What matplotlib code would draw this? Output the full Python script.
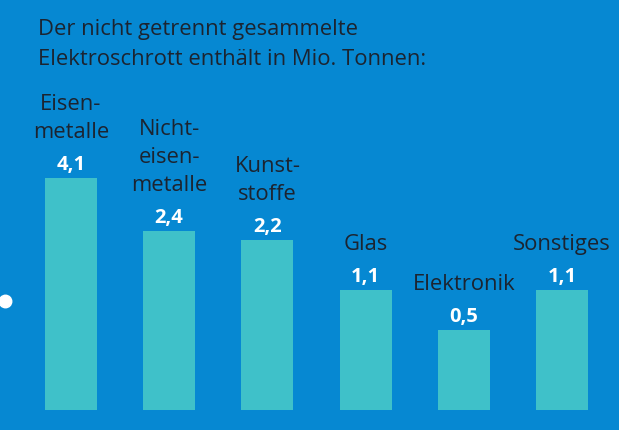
import matplotlib
matplotlib.use("Agg")
import matplotlib.pyplot as plt

# Data
title_lines = ["Der nicht getrennt gesammelte", "Elektroschrott enthält in Mio. Tonnen:"]
categories = ["Eisen-\nmetalle", "Nicht-\neisen-\nmetalle", "Kunst-\nstoffe", "Glas", "Elektronik", "Sonstiges"]
value_labels = ["4,1", "2,4", "2,2", "1,1", "0,5", "1,1"]
values = [4.1, 2.4, 2.2, 1.1, 0.5, 1.1]
# Bars in the infographic are not drawn to scale: heights as drawn
bar_heights = [4.1, 3.16, 3.0, 2.12, 1.41, 2.12]

BG = "#0688d2"
BAR = "#3fc1c9"
DARK = "#1c2430"

W, H = 619, 431
fig = plt.figure(figsize=(W / 100, H / 100), dpi=100, facecolor=BG)
ax = fig.add_axes([0, 0, 1, 1])
ax.set_facecolor(BG)

px_x = 98.2   # px per category step
px_y = 56.6   # px per height unit
x0 = 71       # px of first bar center
y0 = 20       # px of baseline from bottom
ax.set_xlim(-x0 / px_x, (W - x0) / px_x)
ax.set_ylim(-y0 / px_y, (H - y0) / px_y)
ax.axis("off")

xs = list(range(len(categories)))
ax.bar(xs, bar_heights, width=52 / px_x, color=BAR, edgecolor="none")

font = "Open Sans"
for x, h, lab, val in zip(xs, bar_heights, categories, value_labels):
    ax.annotate(val, (x, h), xytext=(0, 9), textcoords="offset pixels",
                ha="center", va="baseline", color="white", fontsize=14.5,
                fontweight="bold", family=font)
    lines = lab.split("\n")
    for i, line in enumerate(reversed(lines)):
        ax.annotate(line, (x, h), xytext=(0, 41 + i * 28), textcoords="offset pixels",
                    ha="center", va="baseline", color=DARK, fontsize=15.8, family=font)

for i, line in enumerate(title_lines):
    fig.text(38 / W, 1 - (35 + 30 * i) / H, line, ha="left", va="baseline",
             color=DARK, fontsize=15.8, family=font)

# decorative white dot
ax.plot([-66 / px_x], [(H - 302 - y0) / px_y], "o", color="white", markersize=9,
        clip_on=False)

fig.savefig("out.png", dpi=100, facecolor=BG)
